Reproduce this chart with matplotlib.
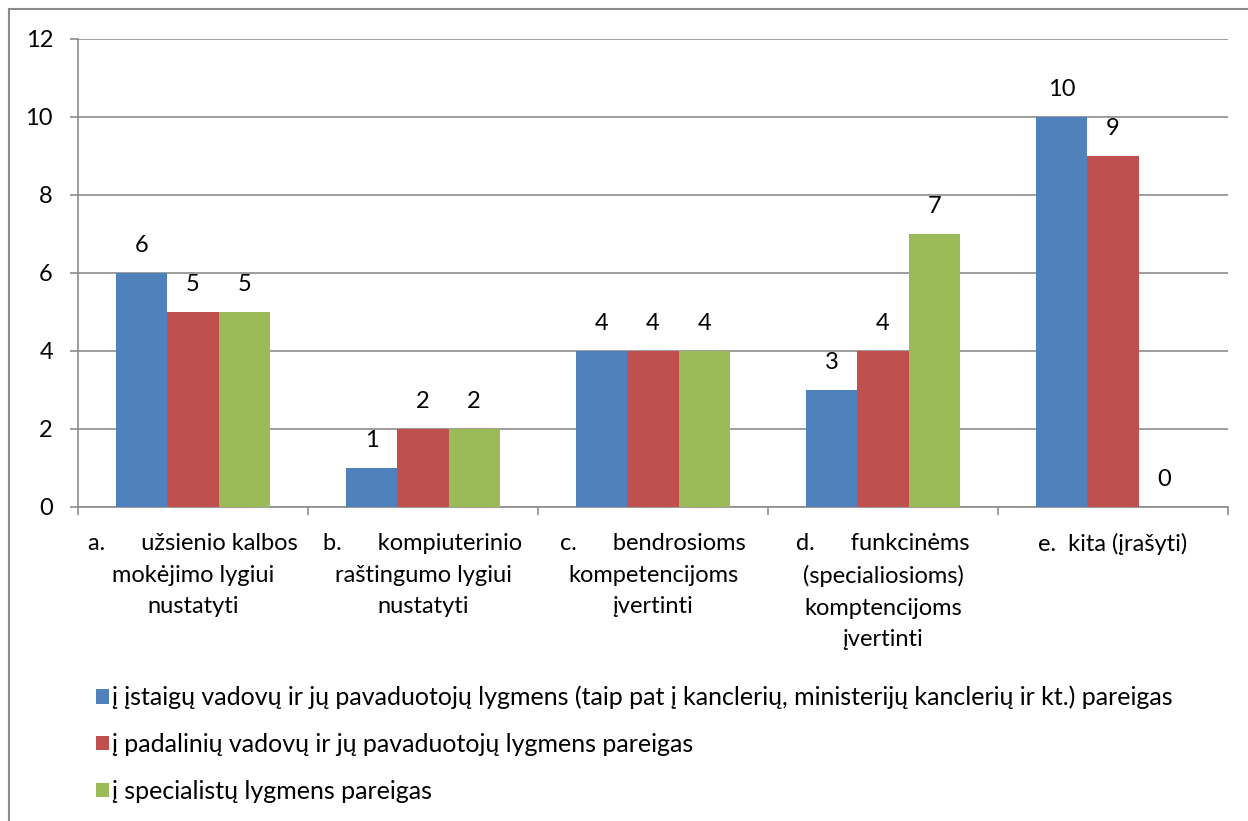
"""
Clustered bar chart: assessment purposes by position level
"""

import matplotlib
matplotlib.use("Agg")
import matplotlib.pyplot as plt
import numpy as np
from matplotlib.patches import Rectangle

######################################################################
############################### Data #################################

categories = [
    "a.      užsienio kalbos\nmokėjimo lygiui\nnustatyti",
    "b.      kompiuterinio\nraštingumo lygiui\nnustatyti",
    "c.      bendrosioms\nkompetencijoms\nįvertinti",
    "d.      funkcinėms\n(specialiosioms)\nkomptencijoms\nįvertinti",
    "e.  kita (įrašyti)",
]
series_names = [
    "į įstaigų vadovų ir jų pavaduotojų lygmens (taip pat į kanclerių, ministerijų kanclerių ir kt.) pareigas",
    "į padalinių vadovų ir jų pavaduotojų lygmens pareigas",
    "į specialistų lygmens pareigas",
]
heads = [6, 1, 4, 3, 10]
units = [5, 2, 4, 4, 9]
specialists = [5, 2, 4, 7, 0]
colors = ["#4F81BD", "#C0504D", "#9BBB59"]
y_ticks = [0, 2, 4, 6, 8, 10, 12]

######################################################################
############################### Plot #################################

plt.rcParams['font.family'] = ['Lato', 'DejaVu Sans']
fs = 17
grid_col = "#8C8C8C"

fig = plt.figure(figsize=(12.48, 8.21), dpi=100)
ax = fig.add_axes([0.0625, 0.3825, 0.9215, 0.57])

x = np.arange(len(categories))
width = 0.222
bars = []
for i, vals in enumerate([heads, units, specialists]):
    b = ax.bar(x + (i - 1) * width, vals, width, color=colors[i],
               label=series_names[i], zorder=3)
    bars.append(b)
    for rect, v in zip(b, vals):
        ax.annotate(str(v), (rect.get_x() + rect.get_width() / 2, v),
                    xytext=(0, 19.5), textcoords="offset points",
                    ha="center", va="center", fontsize=fs)

ax.set_xlim(-0.5, len(categories) - 0.5)
ax.set_ylim(0, 12)
ax.set_yticks(y_ticks)
ax.yaxis.grid(True, color=grid_col, linewidth=1.2, zorder=0)
ax.tick_params(axis="y", length=6, width=1.2, color=grid_col, pad=12, labelsize=fs)

ax.set_xticks(x)
ax.set_xticklabels(categories, linespacing=1.6, fontsize=fs)
ax.set_xticks(np.arange(len(categories) + 1) - 0.5, minor=True)
ax.tick_params(axis="x", which="major", length=0, pad=19)
ax.tick_params(axis="x", which="minor", length=6, width=1.2, color=grid_col)

for side in ["top", "right"]:
    ax.spines[side].set_visible(False)
for side in ["left", "bottom"]:
    ax.spines[side].set_color(grid_col)
    ax.spines[side].set_linewidth(1.2)

fig.legend(handles=bars, labels=series_names, loc="upper left",
           bbox_to_anchor=(0.067, 0.18), frameon=False, fontsize=18,
           handlelength=0.5, handleheight=0.5, handletextpad=0.15,
           labelspacing=0.95, borderpad=0)

# chart area border
fig.patches.append(Rectangle((9 / 1248, -0.01), 1.02, 1 - 9 / 821 + 0.01,
                             transform=fig.transFigure, fill=False,
                             edgecolor="#8C8C8C", linewidth=1.5))

fig.savefig("out.png", dpi=100)
